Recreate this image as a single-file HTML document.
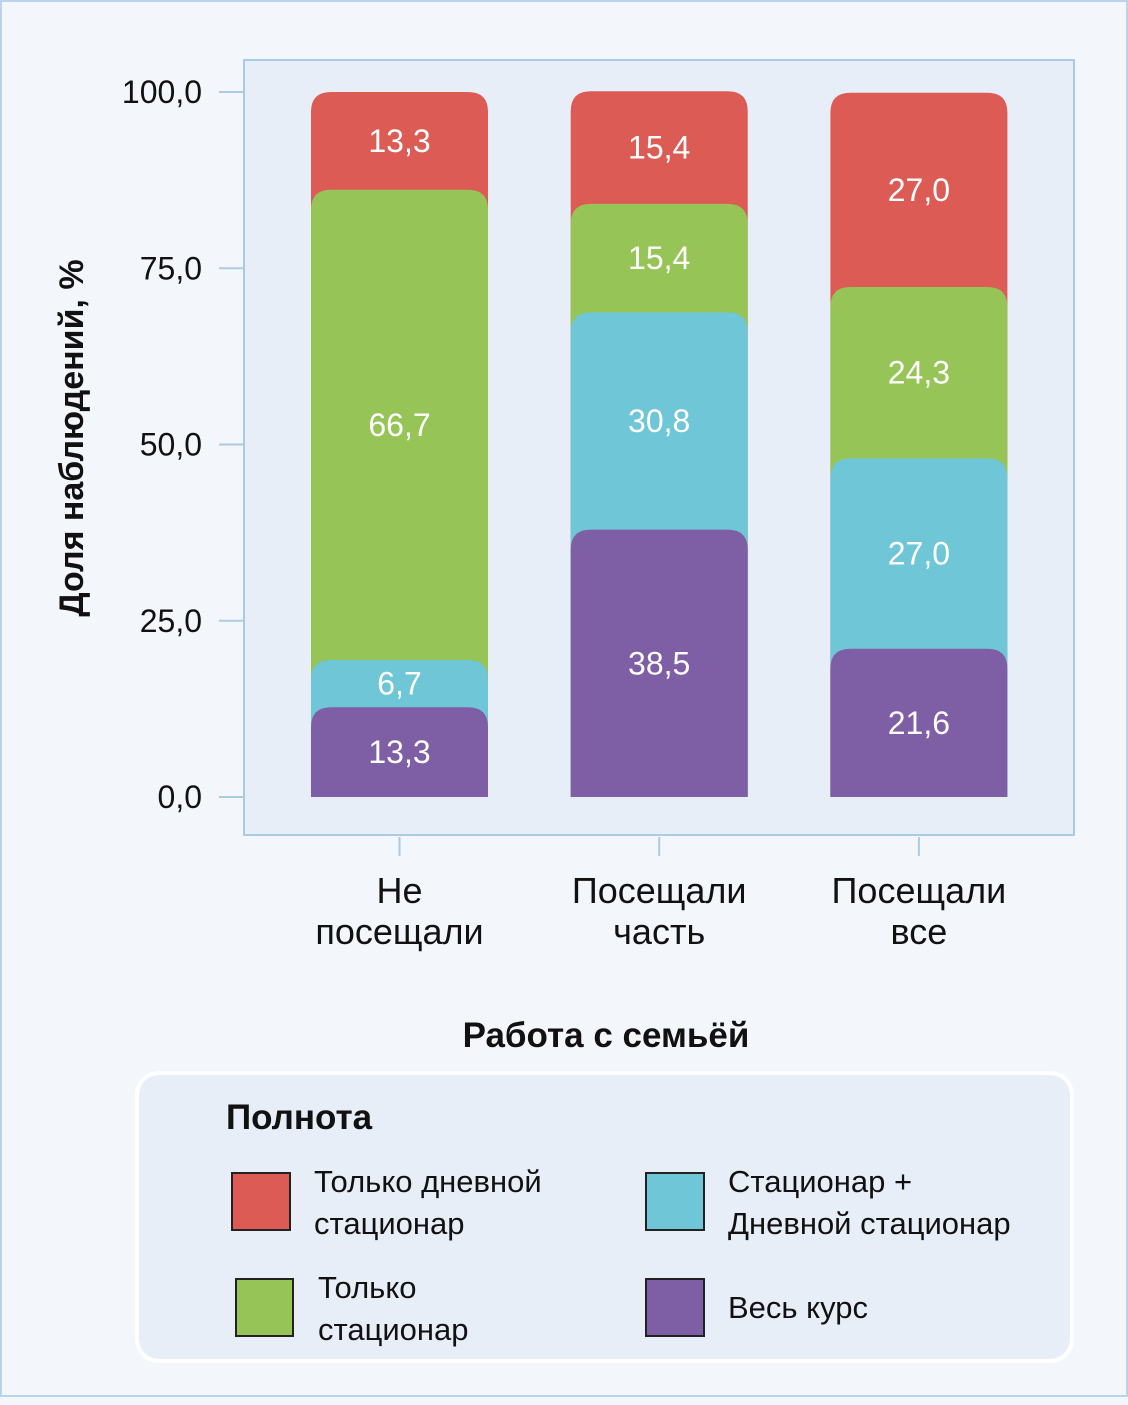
<!DOCTYPE html>
<html><head><meta charset="utf-8"><style>
html,body{margin:0;padding:0;background:#f3f6fb;}
svg{display:block;font-family:"Liberation Sans",sans-serif;}
</style></head><body>
<svg id="chart" width="1128" height="1405" viewBox="0 0 1128 1405">
<rect x="1" y="1" width="1126" height="1395" fill="#f3f6fb" stroke="#b9d3ec" stroke-width="2"/>
<rect x="244" y="60" width="830" height="775" fill="#e8eef8" stroke="#a9cbe6" stroke-width="2"/>
<g id="yaxis"></g>
<g id="bars"></g>
<g id="xaxis"></g>
<text x="0" y="0" transform="translate(83,438) rotate(-90)" text-anchor="middle" font-size="34" font-weight="bold" fill="#111">Доля наблюдений, %</text>
<text x="606" y="1047" text-anchor="middle" font-size="35" font-weight="bold" fill="#111">Работа с семьёй</text>
<g>
<rect x="137" y="1073" width="935" height="288" rx="22" fill="#e8eef8" stroke="#ffffff" stroke-width="4"/>
<text x="226" y="1129" font-size="35" font-weight="bold" fill="#111">Полнота</text>
<g>
<rect x="232" y="1173" width="58" height="57" fill="#dd5b55" stroke="#222" stroke-width="2"/>
<text x="314" y="1192" font-size="31" fill="#111">Только дневной</text>
<text x="314" y="1234" font-size="31" fill="#111">стационар</text></g>
<g>
<rect x="236" y="1279" width="57" height="57" fill="#96c457" stroke="#222" stroke-width="2"/>
<text x="318" y="1298" font-size="31" fill="#111">Только</text>
<text x="318" y="1340" font-size="31" fill="#111">стационар</text></g>
<g>
<rect x="646" y="1173" width="58" height="57" fill="#6fc6d6" stroke="#222" stroke-width="2"/>
<text x="728" y="1192" font-size="31" fill="#111">Стационар +</text>
<text x="728" y="1234" font-size="31" fill="#111">Дневной стационар</text></g>
<g>
<rect x="646" y="1279" width="58" height="57" fill="#7e5ea5" stroke="#222" stroke-width="2"/>
<text x="728" y="1318" font-size="31" fill="#111">Весь курс</text></g>
</g>
</svg>
<script>
const categories = [["Не","посещали"],["Посещали","часть"],["Посещали","все"]];
const dayOnly = [13.3, 15.4, 27.0];
const inpatientOnly = [66.7, 15.4, 24.3];
const both = [6.7, 30.8, 27.0];
const fullCourse = [13.3, 38.5, 21.6];
const yTicks = [0, 25, 50, 75, 100];
const yTickLabels = ["0,0","25,0","50,0","75,0","100,0"];

const NS = "http://www.w3.org/2000/svg";
const y = v => 797 - v * 7.05;
const xc = i => 399.5 + i * 259.7;
const barW = 177;
function mk(tag, attrs, parent){const e=document.createElementNS(NS,tag);for(const k in attrs)e.setAttribute(k,attrs[k]);parent.appendChild(e);return e;}
const yaxis=document.getElementById('yaxis'), bars=document.getElementById('bars'), xaxis=document.getElementById('xaxis');
yTicks.forEach((t,i)=>{
  const l=mk('line',{x1:219,x2:244,y1:y(t),y2:y(t),stroke:'#a9cbe6','stroke-width':2},yaxis);
  
  
  const tx=mk('text',{x:202,y:y(t)+11,'text-anchor':'end','font-size':32,fill:'#111'},yaxis);
  tx.textContent=yTickLabels[i];
  
  
});
const series=[["day-only",dayOnly,"#dd5b55"],["inpatient-only",inpatientOnly,"#96c457"],["both",both,"#6fc6d6"],["full-course",fullCourse,"#7e5ea5"]];
categories.forEach((c,i)=>{
  let top=0; series.forEach(s=>top+=s[1][i]);
  const x0=xc(i)-barW/2, r=20;
  series.forEach((s,k)=>{
    const v=s[1][i]; const yt=y(top)+(k>0?4:0), yb=y(0), ys=y(top-v)+(k<3?4:0);
    const p=mk('path',{d:`M${x0},${yb}V${yt+r}Q${x0},${yt} ${x0+r},${yt}H${x0+barW-r}Q${x0+barW},${yt} ${x0+barW},${yt+r}V${yb}Z`,fill:s[2]},bars);
    
    
    const t=mk('text',{x:xc(i),y:(yt+ys)/2+11,'text-anchor':'middle','font-size':32,fill:'#fff'},bars);
    t.textContent=v.toFixed(1).replace('.',',');
    
    
    top-=v;
  });
  const tk=mk('line',{x1:xc(i),x2:xc(i),y1:837,y2:856,stroke:'#a9cbe6','stroke-width':2},xaxis);
  
  
  c.forEach((w,j)=>{
    const t=mk('text',{x:xc(i),y:903+j*41,'text-anchor':'middle','font-size':36,fill:'#111'},xaxis);
    t.textContent=w;
    
    
  });
});
</script>
</body></html>
